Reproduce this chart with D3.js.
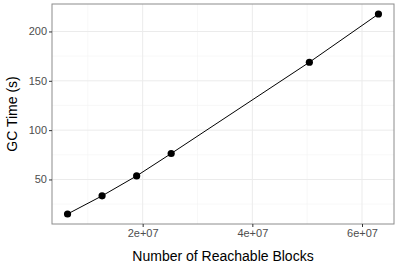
<!DOCTYPE html>
<html>
<head>
<meta charset="utf-8">
<script src="https://cdn.jsdelivr.net/npm/d3@7"></script>
<style>
  body { margin: 0; background: #fff; }
  svg { display: block; font-family: "Liberation Sans", Arial, sans-serif; }
</style>
</head>
<body>
<svg id="chart" width="395" height="272"></svg>
<script>
// data
const blocks = [6.3e6, 12.6e6, 18.9e6, 25.2e6, 50.4e6, 63.0e6]
const gc_time = [15, 33.4, 53.6, 76.3, 168.8, 217.7]
const x_ticks = [2e7, 4e7, 6e7]
const x_tick_labels = ["2e+07", "4e+07", "6e+07"]
const x_minor = [1e7, 3e7, 5e7]
const y_ticks = [50, 100, 150, 200]
const y_minor = [25, 75, 125, 175]

const panel = { left: 52, top: 4, right: 394, bottom: 224 }

function expand(lo, hi) {
    const pad = (hi - lo) * 0.05
    return [lo - pad, hi + pad]
}

const x = d3.scaleLinear()
    .domain(expand(d3.min(blocks), d3.max(blocks)))
    .range([panel.left, panel.right])
const y = d3.scaleLinear()
    .domain(expand(d3.min(gc_time), d3.max(gc_time)))
    .range([panel.bottom, panel.top])

const svg = d3.select("#chart")
const pts = blocks.map((b, i) => ({ x: b, y: gc_time[i] }))

// grid lines, minor first
svg.append("g").selectAll("line").data(x_minor).join("line")
    .attr("x1", d => x(d)).attr("x2", d => x(d))
    .attr("y1", panel.top).attr("y2", panel.bottom)
    .attr("stroke", "#f3f3f3").attr("stroke-width", 0.6)
svg.append("g").selectAll("line").data(y_minor).join("line")
    .attr("y1", d => y(d)).attr("y2", d => y(d))
    .attr("x1", panel.left).attr("x2", panel.right)
    .attr("stroke", "#f3f3f3").attr("stroke-width", 0.6)
svg.append("g").selectAll("line").data(x_ticks).join("line")
    .attr("x1", d => x(d)).attr("x2", d => x(d))
    .attr("y1", panel.top).attr("y2", panel.bottom)
    .attr("stroke", "#ebebeb").attr("stroke-width", 1)
svg.append("g").selectAll("line").data(y_ticks).join("line")
    .attr("y1", d => y(d)).attr("y2", d => y(d))
    .attr("x1", panel.left).attr("x2", panel.right)
    .attr("stroke", "#ebebeb").attr("stroke-width", 1)

// line + points
svg.append("path").datum(pts)
    .attr("d", d3.line().x(d => x(d.x)).y(d => y(d.y)))
    .attr("fill", "none").attr("stroke", "#000").attr("stroke-width", 1)
svg.append("g").selectAll("circle").data(pts).join("circle")
    .attr("cx", d => x(d.x)).attr("cy", d => y(d.y))
    .attr("r", 3.6).attr("fill", "#000")

// panel border
svg.append("rect")
    .attr("x", panel.left).attr("y", panel.top)
    .attr("width", panel.right - panel.left).attr("height", panel.bottom - panel.top)
    .attr("fill", "none").attr("stroke", "#8c8c8c").attr("stroke-width", 1)

// axes
const xAxis = svg.append("g")
    .attr("transform", `translate(0,${panel.bottom})`)
    .call(d3.axisBottom(x).tickValues(x_ticks).tickFormat((d, i) => x_tick_labels[i]).tickSize(3).tickPadding(2))
const yAxis = svg.append("g")
    .attr("transform", `translate(${panel.left},0)`)
    .call(d3.axisLeft(y).tickValues(y_ticks).tickSize(3).tickPadding(2))

;[xAxis, yAxis].forEach(g => {
    g.select(".domain").remove()
    g.selectAll(".tick line").attr("stroke", "#333")
    g.selectAll(".tick text")
        .attr("fill", "#4d4d4d")
        .attr("font-size", "11px")
        .attr("font-family", "Liberation Sans, Arial, sans-serif")
})

// axis titles
svg.append("text").text("Number of Reachable Blocks")
    .attr("x", (panel.left + panel.right) / 2).attr("y", 261)
    .attr("text-anchor", "middle")
    .attr("font-size", "14px").attr("fill", "#000")
svg.append("text").text("GC Time (s)")
    .attr("transform", `translate(17,${(panel.top + panel.bottom) / 2}) rotate(-90)`)
    .attr("text-anchor", "middle")
    .attr("font-size", "14px").attr("fill", "#000")
</script>
</body>
</html>
